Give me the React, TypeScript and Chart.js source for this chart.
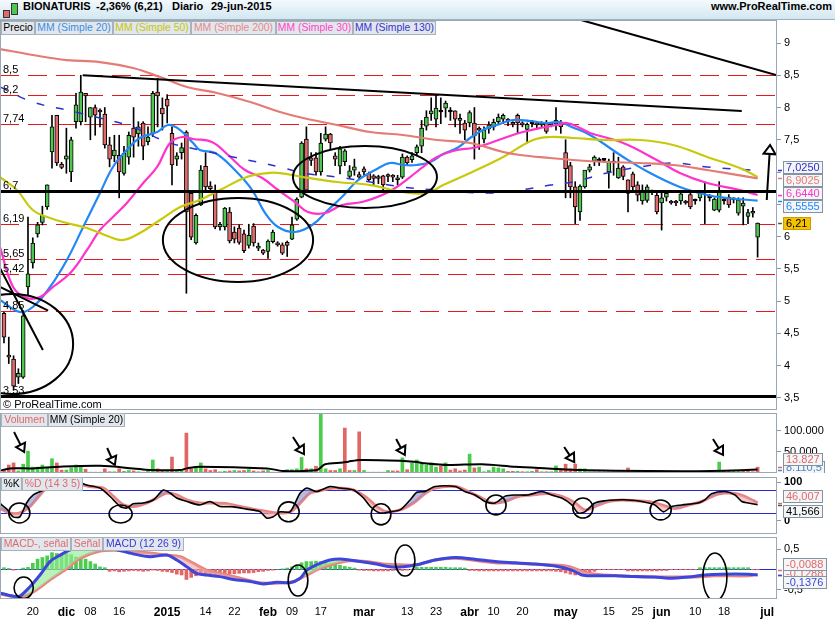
import React, { useEffect, useRef } from 'react';
import { Chart, registerables } from 'chart.js';

Chart.register(...registerables);

const FONT = '"Liberation Sans", Arial, Helvetica, sans-serif';

/* ================= DATA ================= */
const X_MIN = -0.83;
const X_MAX = 161.04;

// trading-day index of each date label (bar 0 = 12-nov-2014)
const dateTickIdx = [6, 13, 18, 24, 34, 42, 48, 55, 60, 66, 75, 84, 90, 97, 102, 108, 117, 126, 132, 137, 144, 150, 159];
const dateTickLabels = ['20', 'dic', '08', '16', '2015', '14', '22', 'feb', '09', '17', 'mar', '13', '23', 'abr', '10', '20', 'may', '15', '25', 'jun', '10', '18', 'jul'];
const boldTickLabels = ['dic', '2015', 'feb', 'mar', 'abr', 'may', 'jun', 'jul'];

const opens = [
  4.81, 4.15, 4.10, 3.82, 3.82, 5.22, 5.59, 6.04, 6.22, 6.46,
  7.31, 7.88, 7.12, 7.20, 7.00, 7.78, 7.78, 8.22, 7.85, 8.00,
  7.95, 7.90, 7.42, 7.25, 7.26, 6.98, 7.23, 7.68, 7.59, 7.76,
  7.47, 7.59, 8.24, 7.99, 8.13, 7.60, 7.20, 7.30, 7.62, 6.67,
  5.90, 6.49, 7.09, 6.78, 6.72, 6.15, 6.15, 6.38, 6.07, 6.13,
  6.04, 5.86, 6.16, 5.82, 5.79, 5.77, 5.92, 5.90, 5.87, 5.91,
  5.96, 6.27, 6.61, 7.51, 7.22, 7.22, 7.00, 7.51, 7.59, 7.25,
  7.09, 7.16, 6.93, 7.03, 6.96, 7.05, 6.98, 6.94, 6.92, 6.94,
  6.95, 6.93, 6.88, 6.92, 7.23, 7.19, 7.30, 7.40, 7.71, 7.90,
  7.82, 7.93, 7.99, 7.93, 7.95, 7.83, 7.76, 7.76, 7.76, 7.68,
  7.51, 7.67, 7.70, 7.78, 7.82, 7.80, 7.75, 7.88, 7.74, 7.66,
  7.75, 7.74, 7.73, 7.76, 7.73, 7.74, 7.77, 7.30, 7.10, 6.77,
  6.38, 6.77, 7.03, 7.17, 7.17, 7.18, 7.00, 7.14, 6.91, 7.08,
  6.88, 6.97, 6.80, 6.55, 6.56, 6.70, 6.64, 6.52, 6.61, 6.53,
  6.53, 6.55, 6.53, 6.65, 6.55, 6.60, 6.68, 6.60, 6.41, 6.41,
  6.55, 6.61, 6.57, 6.36, 6.47, 6.31, 6.38, 5.99,
];
const highs = [
  4.83, 4.44, 4.15, 3.95, 4.85, 6.30, 5.98, 6.22, 6.47, 6.80,
  7.88, 7.88, 7.15, 7.68, 7.54, 8.22, 8.50, 8.22, 8.00, 8.04,
  7.98, 8.00, 7.54, 7.57, 7.57, 7.40, 7.62, 8.00, 7.78, 7.78,
  7.70, 8.25, 8.45, 8.15, 8.20, 7.70, 7.30, 7.45, 7.64, 6.70,
  6.35, 7.10, 7.30, 6.85, 6.80, 6.22, 6.45, 6.45, 6.15, 6.18,
  6.10, 6.19, 6.20, 5.90, 5.80, 5.95, 6.10, 5.92, 5.90, 5.93,
  6.30, 6.60, 7.47, 7.70, 7.30, 7.30, 7.60, 7.70, 7.60, 7.30,
  7.40, 7.35, 7.10, 7.20, 7.00, 7.08, 7.00, 6.96, 6.95, 6.95,
  6.97, 6.96, 6.95, 7.28, 7.25, 7.30, 7.42, 7.80, 7.95, 8.15,
  8.20, 8.15, 8.10, 8.00, 7.95, 7.90, 7.80, 7.95, 8.00, 7.70,
  7.70, 7.78, 7.82, 7.90, 7.90, 7.83, 7.78, 7.90, 7.78, 7.76,
  7.80, 7.78, 7.78, 7.80, 7.76, 8.00, 7.80, 7.50, 7.15, 6.85,
  6.80, 7.00, 7.12, 7.25, 7.22, 7.20, 7.20, 7.30, 7.23, 7.10,
  6.88, 7.00, 6.85, 6.80, 6.80, 6.72, 6.70, 6.68, 6.70, 6.56,
  6.56, 6.68, 6.56, 6.68, 6.58, 6.70, 6.85, 6.65, 6.60, 6.85,
  6.60, 6.65, 6.60, 6.60, 6.60, 6.42, 6.45, 6.21,
];
const lows = [
  4.35, 4.03, 3.62, 3.72, 3.80, 5.09, 5.51, 5.99, 6.18, 6.42,
  7.06, 7.10, 7.05, 6.98, 6.85, 7.68, 7.73, 7.78, 7.50, 7.57,
  7.70, 7.37, 7.08, 7.16, 6.60, 6.95, 7.12, 7.23, 7.40, 7.19,
  7.42, 7.55, 7.70, 7.65, 7.76, 6.80, 7.10, 7.20, 5.12, 5.95,
  5.88, 6.48, 6.70, 6.70, 6.12, 6.10, 6.10, 5.90, 5.90, 5.88,
  5.75, 5.82, 5.85, 5.78, 5.72, 5.66, 5.90, 5.85, 5.72, 5.69,
  5.95, 6.25, 6.60, 6.70, 7.10, 6.95, 6.95, 7.48, 7.35, 7.10,
  6.97, 7.10, 6.90, 6.95, 6.88, 6.95, 6.85, 6.80, 6.82, 6.70,
  6.85, 6.85, 6.80, 6.90, 7.10, 7.15, 7.25, 7.30, 7.65, 7.80,
  7.70, 7.75, 7.85, 7.80, 7.70, 7.60, 7.50, 7.70, 7.20, 7.35,
  7.45, 7.60, 7.65, 7.75, 7.75, 7.72, 7.70, 7.60, 7.70, 7.45,
  7.70, 7.68, 7.70, 7.60, 7.70, 7.65, 7.60, 6.60, 6.60, 6.20,
  6.25, 6.75, 7.00, 7.10, 7.10, 7.15, 6.75, 6.95, 6.90, 6.88,
  6.38, 6.72, 6.55, 6.50, 6.53, 6.65, 6.35, 6.10, 6.55, 6.50,
  6.48, 6.50, 6.50, 6.43, 6.50, 6.55, 6.20, 6.55, 6.40, 6.38,
  6.50, 6.45, 6.52, 6.33, 6.18, 6.20, 6.30, 5.68,
];
const closes = [
  4.44, 4.13, 3.68, 3.88, 4.77, 5.42, 5.90, 6.18, 6.33, 6.80,
  7.70, 7.14, 7.07, 7.25, 7.50, 8.04, 8.24, 8.18, 8.00, 7.88,
  7.93, 7.42, 7.20, 7.34, 7.00, 7.29, 7.57, 7.54, 7.70, 7.40,
  7.54, 8.22, 8.18, 7.90, 8.02, 7.11, 7.25, 7.38, 6.38, 5.99,
  6.33, 7.03, 6.77, 6.74, 6.15, 6.19, 6.44, 5.93, 5.96, 5.91,
  5.78, 6.02, 5.90, 5.85, 5.74, 5.93, 6.07, 5.87, 5.74, 5.86,
  6.18, 6.58, 7.45, 6.72, 7.18, 7.00, 7.45, 7.59, 7.45, 7.20,
  7.36, 7.33, 7.02, 7.08, 6.92, 7.00, 6.88, 6.90, 6.90, 6.80,
  6.93, 6.92, 6.90, 7.23, 7.14, 7.25, 7.39, 7.68, 7.85, 7.95,
  7.99, 7.93, 8.07, 7.93, 7.82, 7.80, 7.65, 7.92, 7.56, 7.65,
  7.65, 7.73, 7.77, 7.85, 7.88, 7.79, 7.74, 7.76, 7.73, 7.74,
  7.75, 7.73, 7.74, 7.63, 7.74, 7.80, 7.70, 7.05, 6.77, 6.46,
  6.78, 7.03, 7.08, 7.23, 7.17, 7.18, 7.17, 7.14, 7.06, 6.93,
  6.67, 6.77, 6.64, 6.72, 6.77, 6.69, 6.38, 6.60, 6.67, 6.52,
  6.52, 6.66, 6.52, 6.46, 6.55, 6.67, 6.68, 6.60, 6.58, 6.69,
  6.55, 6.49, 6.57, 6.57, 6.52, 6.37, 6.36, 6.21,
];

// volume in thousands of shares
const volumesK = [
  7, 19, 24, 5, 21, 52, 14, 14, 19, 14,
  34, 24, 7, 7, 12, 19, 17, 9, 2, 2,
  2, 10, 3, 3, 10, 4, 6, 5, 3, 2,
  5, 31, 10, 6, 5, 38, 5, 6, 95, 10,
  12, 24, 10, 6, 8, 3, 4, 5, 6, 5,
  6, 8, 5, 3, 5, 6, 2, 2, 3, 8,
  8, 10, 37, 10, 10, 16, 143, 10, 6, 6,
  10, 107, 6, 6, 98, 6, 2, 2, 2, 2,
  6, 5, 5, 36, 8, 24, 31, 24, 19, 24,
  14, 16, 24, 7, 10, 5, 7, 45, 12, 14,
  3, 6, 14, 12, 10, 4, 4, 4, 3, 3,
  4, 8, 3, 3, 3, 17, 10, 21, 10, 21,
  10, 10, 3, 3, 3, 3, 3, 3, 3, 3,
  12, 3, 5, 3, 6, 2, 3, 5, 3, 2,
  2, 3, 2, 2, 2, 5, 5, 2, 2, 26,
  5, 5, 5, 5, 5, 5, 3, 13.827,
];
const volMa20Pts = [[-0.83, 5.5], [1.25, 11], [6, 11], [11.7, 15], [20, 17], [26.9, 11], [30.4, 7], [36.7, 7], [38.1, 11], [40.8, 15], [54.8, 11], [58.1, 5], [65.2, 7], [66.9, 21], [70.6, 25], [71.7, 27], [74.2, 31], [82.5, 29], [86, 26], [87.7, 23], [92.5, 19], [99.6, 21], [106.5, 15], [113.3, 11], [120.4, 7], [127.3, 5.5], [141.3, 4], [150, 5.5], [157, 8.1105]];

// moving averages on price: [bar index, value]
const ma20Pts = [[-0.83, 5.016], [3.3, 4.829], [6.0, 4.907], [9.6, 5.217], [13.1, 5.636], [16.5, 6.147], [20, 6.674], [22.7, 7.078], [25.6, 7.341], [28.3, 7.527], [31.9, 7.62], [34.2, 7.729], [36.7, 7.651], [39.4, 7.45], [40.8, 7.341], [44, 7.295], [48.1, 7.031], [51.7, 6.721], [54.4, 6.364], [57.1, 6.147], [60.6, 6.07], [64.2, 6.178], [67.5, 6.411], [70.4, 6.612], [73.8, 6.876], [77.3, 7.031], [80.4, 7.14], [83.1, 7.109], [86, 7.109], [88.8, 7.155], [91.5, 7.279], [94.4, 7.372], [97.1, 7.527], [99.8, 7.651], [102.7, 7.729], [106, 7.806], [109.6, 7.791], [113.1, 7.76], [115.8, 7.775], [118.3, 7.698], [122.1, 7.574], [129, 7.233], [134.6, 6.984], [140.8, 6.767], [146.5, 6.643], [150.6, 6.597], [157, 6.5555]];
const ma50Pts = [[-0.83, 6.922], [2.7, 6.721], [6.0, 6.411], [9.6, 6.287], [13.1, 6.209], [17.3, 6.132], [22.1, 5.992], [24.8, 5.946], [28.3, 6.054], [32.5, 6.256], [36.7, 6.457], [40.8, 6.566], [45, 6.721], [50.6, 6.922], [54.8, 6.984], [57.5, 6.984], [62.3, 6.922], [69.4, 6.845], [76.3, 6.798], [83.1, 6.69], [88.1, 6.674], [91.5, 6.798], [97.1, 6.984], [104, 7.233], [110.2, 7.496], [113.8, 7.543], [118.5, 7.527], [125.6, 7.496], [132.5, 7.496], [139.4, 7.419], [146.5, 7.233], [153.3, 7.062], [157, 6.922]];
const ma200Pts = [[-0.83, 8.907], [6.0, 8.814], [13.1, 8.736], [20, 8.705], [26.9, 8.612], [32.5, 8.473], [38.1, 8.318], [44.4, 8.225], [51.3, 8.085], [57.5, 7.93], [62.3, 7.837], [69.4, 7.729], [76.3, 7.62], [83.1, 7.574], [90.2, 7.496], [97.1, 7.45], [104, 7.31], [107.5, 7.264], [113.8, 7.217], [118.5, 7.186], [125.6, 7.155], [132.5, 7.14], [139.4, 7.109], [146.5, 7.031], [157, 6.9025]];
const ma30Pts = [[-0.83, 5.837], [1.9, 5.217], [4.8, 5.047], [7.5, 5.062], [10.2, 5.217], [13.8, 5.434], [17.3, 5.791], [20, 6.101], [22.7, 6.302], [25.6, 6.519], [29, 6.829], [31.9, 7.078], [34.6, 7.45], [37.1, 7.543], [39.4, 7.512], [43.3, 7.465], [46.7, 7.264], [50.2, 7.031], [53.8, 6.907], [57.1, 6.721], [60.6, 6.535], [63.3, 6.38], [66.9, 6.364], [70.4, 6.488], [74.6, 6.535], [78.8, 6.643], [81.5, 6.752], [84.6, 6.922], [87.3, 7.078], [90.2, 7.233], [94.4, 7.341], [97.7, 7.372], [101.3, 7.45], [104.8, 7.543], [108.1, 7.62], [111.7, 7.682], [115.2, 7.729], [117.3, 7.76], [120, 7.682], [122.1, 7.605], [129, 7.45], [136, 7.186], [140.8, 6.984], [146.5, 6.829], [153.3, 6.721], [157, 6.644]];
const ma130Pts = [[-0.83, 8.318], [6.0, 8.085], [13.1, 7.961], [20, 7.837], [26.9, 7.698], [34, 7.465], [40.8, 7.341], [47.7, 7.233], [57.5, 7.078], [62.3, 6.984], [69.4, 6.922], [76.3, 6.845], [83.1, 6.767], [90.2, 6.721], [100.6, 6.674], [107.5, 6.721], [113.8, 6.798], [118.5, 6.845], [125.6, 6.984], [132.5, 7.078], [139.4, 7.14], [146.5, 7.078], [157, 7.025]];

// stochastic %K and %D
const stochKPts = [[-0.83, 45], [0.6, 30], [1.9, 10], [3.3, 10], [4.7, 46], [6.1, 67], [8.2, 80], [9.6, 98], [11.5, 104], [13.1, 100], [15, 102], [17.2, 93], [20, 85], [22.1, 63], [24.2, 37], [25.6, 33], [26.9, 44], [29, 46], [31.1, 54], [33.2, 80], [34.6, 72], [36, 59], [38.1, 50], [40.8, 41], [42.9, 50], [45, 37], [47.8, 36], [50.6, 30], [53.3, 24], [54.7, 7], [56.1, 10], [57.5, 23], [59.6, 23], [61.7, 72], [63.1, 85], [65.1, 76], [67.9, 89], [70, 85], [72.8, 80], [74.9, 59], [76.3, 37], [78.3, 20], [80.4, 23], [82.5, 28], [84.6, 54], [86, 74], [87.7, 76], [89.8, 89], [94, 89], [96, 76], [98.1, 67], [100.2, 50], [102.3, 46], [104.4, 64], [106.5, 67], [109.2, 67], [112, 76], [114.1, 67], [116.2, 59], [118.3, 41], [119.6, 20], [121, 23], [123.1, 46], [125.2, 52], [127.3, 54], [130.1, 54], [132.9, 50], [135.6, 41], [137.4, 23], [139.1, 37], [141.2, 41], [144.6, 46], [146, 54], [147.4, 70], [150.2, 76], [152.3, 67], [153.7, 50], [155.1, 46], [157, 41.566]];
const stochDPts = [[-0.83, 32], [1.25, 20], [3.3, 20], [5.4, 37], [7.5, 67], [9.6, 93], [13.1, 100], [17.9, 89], [20.7, 85], [22.8, 63], [24.9, 41], [26.9, 37], [29.7, 46], [31.8, 59], [33.9, 72], [36, 67], [38.1, 54], [40.8, 46], [43.6, 46], [46.4, 44], [49.2, 37], [51.9, 30], [54.7, 24], [56.8, 20], [59.6, 23], [61.7, 46], [63.8, 72], [65.8, 78], [68.6, 85], [72.8, 80], [75.6, 59], [77.6, 37], [79.7, 23], [82.5, 28], [85.3, 46], [87.7, 71], [89.8, 85], [94, 89], [96.7, 76], [99.5, 59], [101.6, 46], [104.4, 50], [107.1, 63], [109.9, 67], [113.4, 71], [116.2, 63], [119, 46], [121, 28], [123.1, 37], [125.9, 50], [128.7, 54], [131.5, 52], [134.2, 50], [137, 41], [139.8, 32], [142.6, 41], [145.4, 50], [148.1, 67], [150.2, 72], [152.3, 71], [154.4, 63], [157, 46.007]];

// MACD (12 26 9)
const macdPts = [[-0.83, -0.58], [1.9, -0.66], [3.3, -0.66], [5.4, -0.43], [7.5, -0.14], [9.6, 0.19], [11.7, 0.35], [13.8, 0.48], [16, 0.56], [18, 0.58], [20.5, 0.55], [23.5, 0.48], [26.9, 0.38], [30.4, 0.31], [33.9, 0.35], [36, 0.23], [38.1, 0.06], [40.1, -0.1], [42.2, -0.14], [45, -0.18], [47.8, -0.25], [51.3, -0.3], [54, -0.36], [56.8, -0.32], [59.6, -0.33], [61.7, -0.22], [63.1, -0.02], [65.1, 0.11], [67.9, 0.23], [70.7, 0.25], [74.2, 0.19], [77.6, 0.13], [80.4, 0.06], [83.2, 0.06], [86, 0.11], [89.8, 0.23], [94, 0.29], [98.1, 0.25], [102.3, 0.19], [106.5, 0.16], [110.6, 0.13], [114.8, 0.08], [118.3, -0.02], [120.4, -0.14], [122.4, -0.16], [127.3, -0.16], [131.5, -0.18], [135.6, -0.19], [138.4, -0.22], [142.6, -0.19], [146, -0.14], [149.3, -0.12], [155.1, -0.12], [157, -0.1376]];
const signalPts = [[-0.83, -0.61], [3.3, -0.68], [6.1, -0.56], [9.6, -0.26], [13.1, 0.02], [15.8, 0.27], [20, 0.45], [23.5, 0.47], [26.9, 0.44], [30.4, 0.4], [33.9, 0.35], [36.7, 0.31], [39.4, 0.15], [42.2, -0.02], [46.4, -0.14], [50.6, -0.26], [54, -0.34], [57.5, -0.34], [60.3, -0.3], [63.1, -0.14], [65.8, 0.02], [68.6, 0.13], [72.1, 0.21], [75.6, 0.19], [79, 0.13], [82.5, 0.11], [86, 0.11], [89.8, 0.23], [94, 0.27], [102.3, 0.16], [106.5, 0.15], [113.4, 0.11], [117.6, 0.07], [120.4, -0.05], [123.1, -0.12], [128.7, -0.16], [134.2, -0.19], [138.4, -0.19], [143.3, -0.19], [148.1, -0.16], [155.1, -0.16], [157, -0.1288]];
const macdHist = [
  0.04, 0.02, -0.02, 0.0, 0.03, 0.05, 0.15, 0.25, 0.29, 0.33,
  0.41, 0.39, 0.38, 0.39, 0.36, 0.30, 0.29, 0.25, 0.19, 0.13,
  0.06, 0.04, -0.05, -0.04, -0.06, -0.05, -0.04, -0.03, -0.04, -0.05,
  -0.04, -0.02, -0.03, -0.05, -0.06, -0.08, -0.12, -0.14, -0.25, -0.20,
  -0.16, -0.14, -0.16, -0.15, -0.13, -0.12, -0.10, -0.12, -0.11, -0.10,
  -0.09, -0.09, -0.08, -0.06, -0.05, -0.03, -0.02, 0.0, 0.01, 0.03,
  0.06, 0.10, 0.16, 0.19, 0.19, 0.20, 0.19, 0.18, 0.15, 0.12,
  0.10, 0.07, 0.05, 0.03, -0.02, -0.03, -0.03, -0.04, -0.04, -0.04,
  -0.04, -0.03, -0.03, -0.03, -0.02, -0.01, 0.05, 0.05, 0.05, 0.05,
  0.05, 0.05, 0.05, 0.04, 0.04, 0.04, 0.03, -0.03, -0.03, -0.04,
  -0.04, -0.04, -0.04, -0.04, -0.04, -0.04, -0.04, -0.04, -0.04, -0.04,
  -0.04, -0.04, -0.04, -0.04, -0.04, -0.05, -0.06, -0.09, -0.12, -0.14,
  -0.12, -0.10, -0.07, -0.05, -0.01, -0.01, -0.01, -0.01, -0.01, -0.01,
  -0.04, -0.04, -0.04, -0.04, -0.04, -0.04, -0.04, -0.03, -0.03, -0.01,
  -0.01, -0.01, -0.01, -0.01, -0.01, 0.04, 0.04, 0.04, 0.04, 0.04,
  0.04, 0.04, 0.04, 0.04, 0.04, 0.04, -0.01, -0.0088,
];

// axis ticks
const priceTicks = [3.5, 4, 4.5, 5, 5.5, 6, 6.5, 7, 7.5, 8, 8.5, 9];
const volTicksK = [50, 100];
const stochTicks = [0, 100];
const macdTicks = [-0.5, 0.5];

// drawn annotations, in data units
const dashedLevels = [8.5, 8.2, 7.74, 6.19, 5.65, 5.42, 4.85];
const solidLevels = [6.7, 3.53];
const trendLines = [
  [[16.4, 8.5], [153.7, 7.946]],
  [[120.2, 9.357], [161.04, 8.5]],
  [[-0.83, 5.51], [8.1, 4.24]],
  [[-0.83, 5.22], [9.2, 4.85]],
];
const priceEllipses = [[33.1, 64.4, 6.597, 5.295], [60.2, 90.2, 7.403, 6.442], [-11, 14.4, 5.109, 3.558]];
const priceArrow = [[158.9, 6.566], [159.6, 7.419]];
const volArrows = [[2.1, 97.6, 4.2, 50], [21.5, 59.5, 23.1, 19], [60.2, 85.7, 62.5, 45], [81.7, 81, 83.5, 42.9], [116.7, 62, 118.8, 26], [147.7, 81, 149.8, 43]];
const stochCircles = [[1.0, 5.4, 46, -6], [21.9, 26.7, 41, -6], [57.1, 61.5, 49, -3], [76.5, 80.6, 44, -11], [100.4, 104.6, 67, 15], [118.5, 122.7, 59, 7], [134.6, 139, 54, 2]];
const macdEllipses = [[2.1, 6.1, -0.19, -0.72], [59.2, 63.3, 0.106, -0.658], [81.5, 85.6, 0.598, -0.165], [145.6, 150.6, 0.4, -0.78]];

/* ================= STYLE ================= */
const GREEN = '#4fc64f';
const RED = '#e36a6a';
const C_MA20 = '#2188f5';
const C_MA50 = '#c9c90c';
const C_MA200 = '#e57b74';
const C_MA30 = '#ff33cc';
const C_MA130 = '#2f2fcf';
const C_SALMON = '#e9827f';
const C_MACD = '#3c46dc';
const C_BLUE_LINE = '#2a2ad0';

const last = (a) => a[a.length - 1];
const fmtDec = (v) => String(v).replace('.', ',');
const fmtFixed = (v, d) => v.toFixed(d).replace('.', ',');
const thousands = (s) => s.replace(/\B(?=(\d{3})+(?!\d))/g, '.');
const fmtVolK = (vk) => thousands(String(Math.round(vk * 1000)));
const fmtVolKDec = (vk) => {
  const [i, d] = (vk * 1000).toFixed(1).split('.');
  return thousands(i) + ',' + d;
};
const pts = (arr) => arr.map(([x, y]) => ({ x, y }));

function clipArea(ctx, a) {
  ctx.beginPath();
  ctx.rect(a.left, a.top, a.width, a.height);
  ctx.clip();
}

function ellipseBox(ctx, xs, ys, box) {
  const [x1, x2, v1, v2] = box;
  const px1 = xs.getPixelForValue(x1), px2 = xs.getPixelForValue(x2);
  const py1 = ys.getPixelForValue(v1), py2 = ys.getPixelForValue(v2);
  ctx.beginPath();
  ctx.ellipse((px1 + px2) / 2, (py1 + py2) / 2, Math.abs(px2 - px1) / 2, Math.abs(py2 - py1) / 2, 0, 0, Math.PI * 2);
  ctx.stroke();
}

function arrow(ctx, x0, y0, x1, y1, len, half) {
  const ang = Math.atan2(y1 - y0, x1 - x0);
  const bx = x1 - Math.cos(ang) * len, by = y1 - Math.sin(ang) * len;
  ctx.beginPath();
  ctx.moveTo(x0, y0);
  ctx.lineTo(bx, by);
  ctx.stroke();
  const nx = -Math.sin(ang) * half, ny = Math.cos(ang) * half;
  ctx.beginPath();
  ctx.moveTo(x1, y1);
  ctx.lineTo(bx + nx, by + ny);
  ctx.lineTo(bx - nx, by - ny);
  ctx.closePath();
  ctx.fillStyle = '#fff';
  ctx.fill();
  ctx.stroke();
}

function layoutBoxes(wants, gap, top, bottom, h) {
  const order = wants.map((_, i) => i).sort((a, b) => wants[a] - wants[b]);
  const clusters = order.map((i) => ({ ids: [i], c: wants[i] }));
  let merged = true;
  while (merged) {
    merged = false;
    for (let k = 0; k < clusters.length - 1; k++) {
      const A = clusters[k], B = clusters[k + 1];
      const aEnd = A.c + ((A.ids.length - 1) / 2) * gap;
      const bStart = B.c - ((B.ids.length - 1) / 2) * gap;
      if (bStart - aEnd < gap) {
        const ids = A.ids.concat(B.ids);
        const c = ids.reduce((s, i) => s + wants[i], 0) / ids.length;
        clusters.splice(k, 2, { ids, c });
        merged = true;
        break;
      }
    }
  }
  const out = new Array(wants.length);
  for (const C of clusters) {
    let start = C.c - ((C.ids.length - 1) / 2) * gap;
    const end = start + (C.ids.length - 1) * gap;
    if (end + h / 2 > bottom) start -= end + h / 2 - bottom;
    if (start - h / 2 < top) start = top + h / 2;
    C.ids.forEach((id, j) => { out[id] = start + j * gap; });
  }
  return out;
}

const framePlugin = {
  id: 'frame',
  afterDraw(chart) {
    const { ctx, chartArea: a } = chart;
    ctx.save();
    ctx.strokeStyle = '#9ba8b3';
    ctx.lineWidth = 1;
    ctx.strokeRect(a.left + 0.5, a.top + 0.5, a.width - 1, a.height - 1);
    ctx.restore();
  },
};

function valueBoxPlugin(items, gap) {
  return {
    id: 'valueBoxes',
    afterDraw(chart) {
      const { ctx, chartArea: a, scales } = chart;
      const y = scales.y;
      const h = 13;
      const wants = items.map((it) => y.getPixelForValue(it.value));
      const pos = layoutBoxes(wants, gap, a.top, a.bottom, h);
      ctx.save();
      ctx.font = `11px ${FONT}`;
      ctx.textBaseline = 'middle';
      items.forEach((it, i) => {
        const py = Math.round(wants[i]) + 0.5;
        ctx.strokeStyle = it.color === '#000' ? '#555' : it.color;
        ctx.lineWidth = 1.5;
        ctx.beginPath();
        ctx.moveTo(a.right + 1, py);
        ctx.lineTo(a.right + 5, py);
        ctx.stroke();
      });
      const order = items.map((_, i) => i).sort((p, q) => (items[p].z || 0) - (items[q].z || 0));
      order.forEach((i) => {
        const it = items[i];
        const cy = Math.round(pos[i]);
        const w = Math.ceil(ctx.measureText(it.text).width) + 6;
        const x = a.right + 6;
        const t = cy - 6;
        ctx.fillStyle = it.bg || '#f3f5f7';
        ctx.fillRect(x, t, w, h);
        ctx.strokeStyle = it.border || '#8493a0';
        ctx.lineWidth = 1;
        ctx.strokeRect(x + 0.5, t + 0.5, w - 1, h - 1);
        ctx.fillStyle = it.color;
        ctx.fillText(it.text, x + 3, cy + 0.5);
      });
      ctx.restore();
    },
  };
}

const priceAnnoPlugin = {
  id: 'priceAnno',
  beforeDatasetsDraw(chart) {
    const { ctx, chartArea: a, scales } = chart;
    const y = scales.y;
    ctx.save();
    clipArea(ctx, a);
    ctx.strokeStyle = '#e3191c';
    ctx.lineWidth = 1;
    ctx.setLineDash([19, 9]);
    for (const v of dashedLevels) {
      const py = Math.round(y.getPixelForValue(v)) + 0.5;
      ctx.beginPath();
      ctx.moveTo(a.left, py);
      ctx.lineTo(a.right, py);
      ctx.stroke();
    }
    ctx.restore();
  },
  afterDatasetsDraw(chart) {
    const { ctx, chartArea: a, scales } = chart;
    const x = scales.x, y = scales.y;
    ctx.save();
    clipArea(ctx, a);
    ctx.strokeStyle = '#000';
    ctx.lineWidth = 3;
    for (const v of solidLevels) {
      const py = Math.round(y.getPixelForValue(v)) + 0.5;
      ctx.beginPath();
      ctx.moveTo(a.left, py);
      ctx.lineTo(a.right, py);
      ctx.stroke();
    }
    ctx.lineWidth = 2;
    for (const [[x0, v0], [x1, v1]] of trendLines) {
      ctx.beginPath();
      ctx.moveTo(x.getPixelForValue(x0), y.getPixelForValue(v0));
      ctx.lineTo(x.getPixelForValue(x1), y.getPixelForValue(v1));
      ctx.stroke();
    }
    for (const b of priceEllipses) ellipseBox(ctx, x, y, b);
    const [[ax0, av0], [ax1, av1]] = priceArrow;
    arrow(ctx, x.getPixelForValue(ax0), y.getPixelForValue(av0), x.getPixelForValue(ax1), y.getPixelForValue(av1), 9, 6);
    ctx.font = `11px ${FONT}`;
    ctx.fillStyle = '#000';
    ctx.textBaseline = 'alphabetic';
    for (const v of dashedLevels.concat(solidLevels)) {
      ctx.fillText(fmtDec(v), a.left + 3, Math.round(y.getPixelForValue(v)) - 2);
    }
    ctx.restore();
  },
};

const volAnnoPlugin = {
  id: 'volAnno',
  afterDatasetsDraw(chart) {
    const { ctx, chartArea: a, scales } = chart;
    const x = scales.x, y = scales.y;
    ctx.save();
    clipArea(ctx, a);
    ctx.strokeStyle = '#000';
    ctx.lineWidth = 2;
    for (const [x0, v0, x1, v1] of volArrows) {
      arrow(ctx, x.getPixelForValue(x0), y.getPixelForValue(v0), x.getPixelForValue(x1), y.getPixelForValue(v1), 8, 5);
    }
    ctx.restore();
  },
};

const stochAnnoPlugin = {
  id: 'stochAnno',
  beforeDatasetsDraw(chart) {
    const { ctx, chartArea: a, scales } = chart;
    const y = scales.y;
    ctx.save();
    ctx.strokeStyle = C_BLUE_LINE;
    ctx.lineWidth = 1;
    for (const v of [80, 20]) {
      const py = Math.round(y.getPixelForValue(v)) + 0.5;
      ctx.beginPath();
      ctx.moveTo(a.left, py);
      ctx.lineTo(a.right, py);
      ctx.stroke();
    }
    ctx.restore();
  },
  afterDatasetsDraw(chart) {
    const { ctx, chartArea: a, scales } = chart;
    ctx.save();
    clipArea(ctx, a);
    ctx.strokeStyle = '#000';
    ctx.lineWidth = 1.6;
    for (const b of stochCircles) ellipseBox(ctx, scales.x, scales.y, b);
    ctx.restore();
  },
};

const macdAnnoPlugin = {
  id: 'macdAnno',
  beforeDatasetsDraw(chart) {
    const { ctx, chartArea: a, scales } = chart;
    const py = Math.round(scales.y.getPixelForValue(0)) + 0.5;
    ctx.save();
    ctx.strokeStyle = C_BLUE_LINE;
    ctx.lineWidth = 1;
    ctx.beginPath();
    ctx.moveTo(a.left, py);
    ctx.lineTo(a.right, py);
    ctx.stroke();
    ctx.restore();
  },
  afterDatasetsDraw(chart) {
    const { ctx, chartArea: a, scales } = chart;
    ctx.save();
    clipArea(ctx, a);
    ctx.strokeStyle = '#000';
    ctx.lineWidth = 1.6;
    for (const b of macdEllipses) ellipseBox(ctx, scales.x, scales.y, b);
    ctx.restore();
  },
};

function hiddenX() {
  return { type: 'linear', min: X_MIN, max: X_MAX, offset: false, display: false };
}

function rightAxis(min, max, ticks, fmt, bold) {
  return {
    type: 'linear',
    position: 'right',
    min,
    max,
    afterBuildTicks: (s) => { s.ticks = ticks.map((v) => ({ value: v })); },
    afterFit: (s) => { s.width = 58; s.paddingTop = 0; s.paddingBottom = 0; },
    grid: { drawOnChartArea: false, drawTicks: true, tickLength: 4, color: '#8d9aa6' },
    border: { display: false },
    ticks: {
      autoSkip: false,
      padding: 3,
      color: '#000',
      callback: (v) => fmt(v),
      font: { family: FONT, size: 11, weight: bold ? 'bold' : 'normal' },
    },
  };
}

function baseOptions(scales) {
  return {
    responsive: false,
    animation: false,
    events: [],
    layout: { padding: 0 },
    plugins: { legend: { display: false }, tooltip: { enabled: false } },
    scales,
  };
}

function lineDs(data, color, width, extra) {
  return Object.assign({
    type: 'line',
    data: pts(data),
    borderColor: color,
    backgroundColor: color,
    borderWidth: width,
    pointRadius: 0,
    tension: 0.4,
    fill: false,
    order: 0,
  }, extra || {});
}

function priceConfig() {
  const bodyColors = opens.map((o, i) => (Math.abs(closes[i] - o) < 0.005 ? '#000' : closes[i] > o ? GREEN : RED));
  return {
    type: 'bar',
    data: {
      datasets: [
        lineDs(ma200Pts, C_MA200, 2.2),
        lineDs(ma50Pts, C_MA50, 2.2),
        lineDs(ma130Pts, C_MA130, 1.5, { borderDash: [8, 12] }),
        lineDs(ma30Pts, C_MA30, 2.2),
        lineDs(ma20Pts, C_MA20, 2.2),
        {
          type: 'bar',
          data: opens.map((o, i) => ({ x: i, y: [lows[i], highs[i]] })),
          backgroundColor: '#000',
          barThickness: 1,
          grouped: false,
          order: 2,
        },
        {
          type: 'bar',
          data: opens.map((o, i) => ({ x: i, y: [o, closes[i]] })),
          backgroundColor: bodyColors,
          borderColor: '#000',
          borderWidth: 1,
          borderSkipped: false,
          barThickness: 4,
          minBarLength: 2,
          grouped: false,
          order: 1,
        },
      ],
    },
    options: baseOptions({
      x: hiddenX(),
      y: rightAxis(3.31, 9.357, priceTicks, fmtDec, false),
    }),
    plugins: [
      priceAnnoPlugin,
      framePlugin,
      valueBoxPlugin([
        { value: last(ma130Pts)[1], text: fmtFixed(last(ma130Pts)[1], 4), color: C_MA130 },
        { value: last(ma200Pts)[1], text: fmtFixed(last(ma200Pts)[1], 4), color: C_MA200 },
        { value: last(ma30Pts)[1], text: fmtFixed(last(ma30Pts)[1], 4), color: C_MA30 },
        { value: last(ma20Pts)[1], text: fmtFixed(last(ma20Pts)[1], 4), color: C_MA20 },
        { value: last(closes), text: fmtFixed(last(closes), 2), color: '#000', bg: '#f6c300', border: '#c99d00' },
      ], 13),
    ],
  };
}

function volumeConfig() {
  const colors = closes.map((c, i) => ((i === 0 ? c >= opens[0] : c >= closes[i - 1]) ? '#4ccc4c' : '#e26666'));
  return {
    type: 'bar',
    data: {
      datasets: [
        lineDs(volMa20Pts, '#000', 2, { tension: 0.3 }),
        {
          type: 'bar',
          data: volumesK.map((v, i) => ({ x: i, y: v })),
          backgroundColor: colors,
          barThickness: 3,
          grouped: false,
          order: 1,
        },
      ],
    },
    options: baseOptions({
      x: hiddenX(),
      y: rightAxis(0, 142.857, volTicksK, fmtVolK, false),
    }),
    plugins: [
      volAnnoPlugin,
      framePlugin,
      valueBoxPlugin([
        { value: last(volMa20Pts)[1], text: fmtVolKDec(last(volMa20Pts)[1]), color: '#4a86c0', z: 0 },
        { value: last(volumesK), text: fmtVolK(last(volumesK)), color: '#e06666', z: 1 },
      ], 8),
    ],
  };
}

function stochConfig() {
  return {
    type: 'line',
    data: {
      datasets: [
        lineDs(stochKPts, '#000', 1.6, {
          tension: 0.25,
          order: 0,
          fill: { target: 1, above: 'rgba(140,140,205,0.6)', below: 'rgba(240,165,165,0.6)' },
        }),
        lineDs(stochDPts, C_SALMON, 3, { tension: 0.3, order: 1 }),
      ],
    },
    options: baseOptions({
      x: hiddenX(),
      y: rightAxis(-34.8, 113.9, stochTicks, (v) => String(v), true),
    }),
    plugins: [
      stochAnnoPlugin,
      framePlugin,
      valueBoxPlugin([
        { value: last(stochDPts)[1], text: fmtFixed(last(stochDPts)[1], 3), color: '#e06a6a' },
        { value: last(stochKPts)[1], text: fmtFixed(last(stochKPts)[1], 3), color: '#000' },
      ], 15),
    ],
  };
}

function macdConfig() {
  return {
    type: 'bar',
    data: {
      datasets: [
        {
          type: 'bar',
          data: macdHist.map((v, i) => ({ x: i, y: v })),
          backgroundColor: macdHist.map((v) => (v >= 0 ? '#4ccc4c' : '#e26666')),
          barThickness: 3,
          grouped: false,
          order: 2,
        },
        lineDs(macdPts, C_MACD, 3, {
          tension: 0.3,
          order: 0,
          fill: { target: 2, above: 'rgba(150,235,150,0.65)', below: 'rgba(240,165,165,0.6)' },
        }),
        lineDs(signalPts, C_SALMON, 3, { tension: 0.3, order: 1 }),
      ],
    },
    options: baseOptions({
      x: {
        type: 'linear',
        min: X_MIN,
        max: X_MAX,
        offset: false,
        position: 'bottom',
        afterBuildTicks: (s) => { s.ticks = dateTickIdx.map((v) => ({ value: v })); },
        afterFit: (s) => { s.height = 21; s.paddingLeft = 0; s.paddingRight = 0; },
        grid: { display: false, drawTicks: false },
        border: { display: false },
        ticks: {
          autoSkip: false,
          maxRotation: 0,
          minRotation: 0,
          padding: 6,
          color: '#000',
          callback: (v, i) => dateTickLabels[i],
          font: (c) => (boldTickLabels.includes(dateTickLabels[c.index])
            ? { family: FONT, size: 12, weight: 'bold' }
            : { family: FONT, size: 11, weight: 'normal' }),
        },
      },
      y: rightAxis(-0.7315, 0.7956, macdTicks, fmtDec, false),
    }),
    plugins: [
      macdAnnoPlugin,
      framePlugin,
      valueBoxPlugin([
        { value: last(signalPts)[1], text: fmtFixed(last(signalPts)[1], 4), color: '#e06a6a', z: 0 },
        { value: last(macdHist), text: fmtFixed(last(macdHist), 4), color: '#e06a6a', z: 1 },
        { value: last(macdPts)[1], text: fmtFixed(last(macdPts)[1], 4), color: C_MACD, z: 1 },
      ], 9),
    ],
  };
}

/* ================= COMPONENT ================= */
function LegendRow({ top, items }) {
  return (
    <>
      {items.map((it) => (
        <div
          key={it.t}
          style={{
            position: 'absolute', left: it.l, top, width: it.w, height: 14, boxSizing: 'border-box',
            border: '1px solid #a8b2bb', background: '#e1e7ec', color: it.c,
            font: `10.4px ${FONT}`, lineHeight: '12px', textAlign: 'center', whiteSpace: 'nowrap', zIndex: 2,
            overflow: 'hidden',
          }}
        >
          {it.t}
        </div>
      ))}
    </>
  );
}

export default function App() {
  const pRef = useRef(null);
  const vRef = useRef(null);
  const sRef = useRef(null);
  const mRef = useRef(null);

  useEffect(() => {
    const charts = [
      new Chart(pRef.current, priceConfig()),
      new Chart(vRef.current, volumeConfig()),
      new Chart(sRef.current, stochConfig()),
      new Chart(mRef.current, macdConfig()),
    ];
    return () => charts.forEach((c) => c.destroy());
  }, []);

  const titleStyle = { position: 'absolute', top: 0, lineHeight: '20px', font: `bold 11px ${FONT}`, color: '#000', whiteSpace: 'nowrap' };
  const canvasStyle = (top) => ({ position: 'absolute', left: 0, top, display: 'block' });

  return (
    <div style={{ position: 'absolute', left: 0, top: 0, width: 835, height: 620, background: '#fff', overflow: 'hidden', fontFamily: FONT }}>
      <div style={{ position: 'absolute', left: 0, top: 0, width: 835, height: 20, boxSizing: 'border-box', background: 'linear-gradient(#f3f9fc, #d3e7f1)', borderBottom: '1px solid #9fb0bd' }}>
        <div style={{ position: 'absolute', left: 3, top: 10, width: 5, height: 6, background: '#e36a6a', border: '1px solid #333' }} />
        <div style={{ position: 'absolute', left: 11, top: 3, width: 5, height: 10, background: '#4fc64f', border: '1px solid #333' }} />
        <span style={{ ...titleStyle, left: 23 }}>BIONATURIS</span>
        <span style={{ ...titleStyle, left: 96 }}>-2,36% (6,21)</span>
        <span style={{ ...titleStyle, left: 172 }}>Diario</span>
        <span style={{ ...titleStyle, left: 211 }}>29-jun-2015</span>
        <span style={{ ...titleStyle, right: 3 }}>www.ProRealTime.com</span>
      </div>

      <canvas ref={pRef} width={835} height={390} style={canvasStyle(20)} />
      <canvas ref={vRef} width={835} height={60} style={canvasStyle(413)} />
      <canvas ref={sRef} width={835} height={57} style={canvasStyle(477)} />
      <canvas ref={mRef} width={835} height={83} style={canvasStyle(537)} />

      <LegendRow
        top={21}
        items={[
          { t: 'Precio', c: '#000', l: 1, w: 34 },
          { t: 'MM (Simple 20)', c: '#3a8ee8', l: 35, w: 78 },
          { t: 'MM (Simple 50)', c: '#c6c60a', l: 113, w: 78 },
          { t: 'MM (Simple 200)', c: '#e68888', l: 191, w: 85 },
          { t: 'MM (Simple 30)', c: '#ff45c8', l: 276, w: 77 },
          { t: 'MM (Simple 130)', c: '#3434d0', l: 353, w: 83 },
        ]}
      />
      <div style={{ position: 'absolute', left: 3, top: 398, font: `11px ${FONT}`, color: '#000', zIndex: 2 }}>© ProRealTime.com</div>
      <LegendRow
        top={413}
        items={[
          { t: 'Volumen', c: '#e06666', l: 1, w: 47 },
          { t: 'MM (Simple 20)', c: '#000', l: 48, w: 77 },
        ]}
      />
      <LegendRow
        top={477}
        items={[
          { t: '%K', c: '#000', l: 1, w: 21 },
          { t: '%D (14 3 5)', c: '#e06a6a', l: 22, w: 61 },
        ]}
      />
      <LegendRow
        top={537}
        items={[
          { t: 'MACD-, señal', c: '#e06a6a', l: 1, w: 70 },
          { t: 'Señal', c: '#e06a6a', l: 71, w: 32 },
          { t: 'MACD (12 26 9)', c: '#3a3ad0', l: 103, w: 81 },
        ]}
      />
    </div>
  );
}
